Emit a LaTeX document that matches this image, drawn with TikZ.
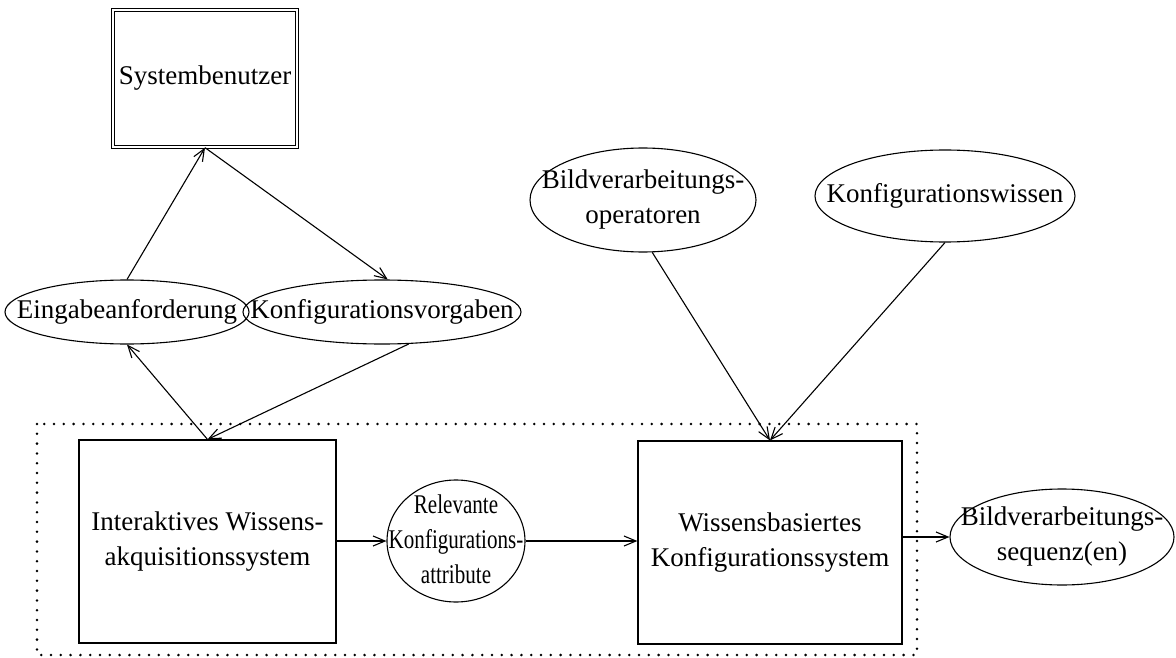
\documentclass[tikz,border=0pt]{standalone}
\usepackage{fontspec}
\setmainfont{Liberation Serif}
\usetikzlibrary{shapes.geometric,arrows.meta}
\begin{document}
\begin{tikzpicture}[x=1pt,y=-1pt,
  every node/.style={font=\fontsize{27}{35}\selectfont, align=center},
  ell/.style={draw, ellipse, inner sep=0pt, line width=1.1pt},
  lbl/.style={inner sep=0pt, align=center},
  box/.style={draw, rectangle, inner sep=0pt, line width=1.2pt},
  conn/.style={line width=1.1pt, -{Straight Barb[length=12pt,width=10pt]}},
  frame/.style={line width=2.8pt, line cap=round, dash pattern=on 0pt off 9.8pt},
]
\useasboundingbox (0,0) rectangle (1176,658);

% user box (double border)
\node[draw, rectangle, inner sep=0pt, line width=1.3pt, double, double distance=1.3pt,
      minimum width=184pt, minimum height=137pt] (sb) at (205,78.5) {Systembenutzer};

% dialogue ellipses
\node[ell, minimum width=244pt, minimum height=64pt,
      label={[lbl]center:Eingabeanforderung}] (ea) at (127,312) {};
\node[ell, minimum width=278pt, minimum height=64pt,
      label={[lbl]center:Konfigurationsvorgaben}] (kv) at (382,312) {};

% knowledge sources
\node[ell, minimum width=226pt, minimum height=104pt,
      label={[lbl]center:Bildverarbeitungs-\\operatoren}] (bo) at (643,200) {};
\node[ell, minimum width=260pt, minimum height=92pt,
      label={[lbl]center:Konfigurationswissen}] (kw) at (945,196) {};

% system frame
\draw[frame] (37,424) rectangle (917,655);

% subsystems
\node[box, minimum width=257pt, minimum height=203pt] (ia) at (207.5,541.5)
  {Interaktives Wissens-\\akquisitionssystem};
\node[box, minimum width=264pt, minimum height=203pt] (wb) at (770,542.5)
  {Wissensbasiertes\\Konfigurationssystem};

% intermediate and final results
\node[ell, minimum width=138pt, minimum height=122pt,
      label={[lbl]center:\scalebox{0.78}[1]{\begin{tabular}{@{}c@{}}Relevante\\Konfigurations-\\attribute\end{tabular}}}] (rk) at (456,541) {};
\node[ell, minimum width=224pt, minimum height=96pt,
      label={[lbl]center:Bildverarbeitungs-\\sequenz(en)}] (sq) at (1062,537) {};

% connectors
\draw[conn] (ea.north) -- (sb.south);
\draw[conn] (sb.south) -- (kv.80);
\draw[conn] (ia.north) -- (ea.south);
\draw[conn] (kv.-50) -- (ia.north);
\draw[conn] (bo.-80) -- (wb.north);
\draw[conn] (kw.south) -- (wb.north);
\draw[conn] (ia.east |- rk.west) -- (rk.west);
\draw[conn] (rk.east) -- (wb.west |- rk.east);
\draw[conn] (wb.east |- sq.west) -- (sq.west);
\end{tikzpicture}
\end{document}
